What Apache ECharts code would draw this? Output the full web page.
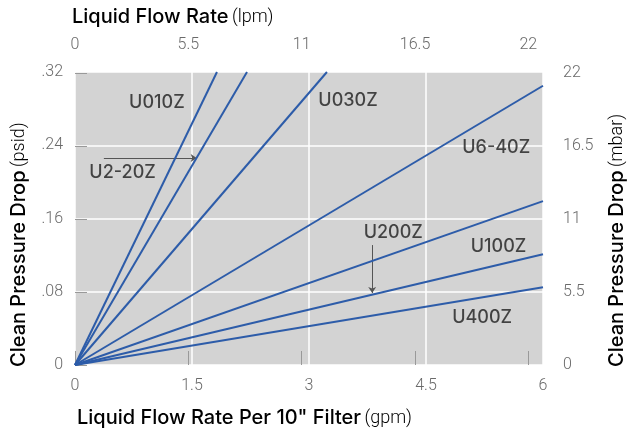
<!DOCTYPE html>
<html>
<head>
<meta charset="utf-8">
<script src="https://cdn.jsdelivr.net/npm/echarts@6/dist/echarts.min.js"></script>
<style>
  html, body { margin: 0; padding: 0; background: #fff; }
  #chart { width: 632px; height: 436px; }
</style>
</head>
<body>
<div id="chart"></div>
<script>
// filter curves: every line starts at 0,0 and ends at (endGpm, endPsid)
const filterNames = ['U010Z', 'U2-20Z', 'U030Z', 'U6-40Z', 'U200Z', 'U100Z', 'U400Z']
const endGpm = [1.82, 2.205, 3.23, 6, 6, 6, 6]
const endPsid = [0.32, 0.32, 0.32, 0.305, 0.179, 0.121, 0.085]

// where the curve names sit (gpm, psid)
const labelNames = ['U010Z', 'U2-20Z', 'U030Z', 'U6-40Z', 'U200Z', 'U100Z', 'U400Z']
const labelGpm = [1.05, 0.61, 3.50, 5.40, 4.08, 5.43, 5.22]
const labelPsid = [0.287, 0.2097, 0.289, 0.237, 0.145, 0.129, 0.0513]

// pointer arrows (from -> to)
const arrowFrom = [[0.37, 0.226], [3.81, 0.131]]
const arrowTo = [[1.56, 0.226], [3.81, 0.0786]]

// axis ticks
const gpmTicks = [0, 1.5, 3, 4.5, 6]
const psidTicks = [0, 0.08, 0.16, 0.24, 0.32]
const lpmTicks = [0, 5.5, 11, 16.5, 22]
const mbarTicks = [0, 5.5, 11, 16.5, 22]

const lineBlue = '#2d5ca9'
const tickFont = 'Roboto, sans-serif'
const labelFont = 'Inter, "Liberation Sans", sans-serif'

const chart = echarts.init(document.getElementById('chart'))

const lineSeries = filterNames.map((name, i) => ({
  name: name,
  type: 'line',
  xAxisIndex: 0,
  yAxisIndex: 0,
  showSymbol: false,
  silent: true,
  data: [[0, 0], [endGpm[i], endPsid[i]]],
  lineStyle: { color: lineBlue, width: 2 }
}))

const titleRich = {
  b: { fontFamily: labelFont, fontSize: 20, fontWeight: 500, color: '#1e1e1e' },
  l: { fontFamily: tickFont, fontSize: 18, fontWeight: 300, color: '#777' }
}

// tick label look
const tickLabel = { color: '#6a6a6a', fontSize: 16, fontWeight: 300, fontFamily: tickFont }

const option = {
  animation: false,
  grid: {
    left: 75,
    right: 89,
    top: 72,
    bottom: 71,
    show: true,
    backgroundColor: '#d3d3d3',
    borderWidth: 0
  },
  xAxis: [
    {
      type: 'value',
      position: 'bottom',
      min: 0,
      max: 6,
      interval: 1.5,
      axisLine: { show: false },
      axisTick: { show: false },
      axisLabel: Object.assign({ margin: 13, customValues: gpmTicks }, tickLabel),
      splitLine: { show: true, lineStyle: { color: '#fff', width: 1.5 } }
    },
    {
      type: 'value',
      position: 'top',
      min: 0,
      max: 22.71,
      axisLine: { show: false },
      axisTick: { show: true, length: 14, lineStyle: { color: '#999' }, customValues: lpmTicks },
      axisLabel: Object.assign({ margin: 19, customValues: lpmTicks }, tickLabel),
      splitLine: { show: false }
    }
  ],
  yAxis: [
    {
      type: 'value',
      position: 'left',
      min: 0,
      max: 0.32,
      interval: 0.08,
      axisLine: { show: false },
      axisTick: { show: false },
      axisLabel: Object.assign({
        margin: 12,
        customValues: psidTicks,
        formatter: (v) => v === 0 ? '0' : String(+v.toFixed(2)).replace(/^0/, '')
      }, tickLabel),
      splitLine: { show: true, lineStyle: { color: '#fff', width: 1.5 } }
    },
    {
      type: 'value',
      position: 'right',
      min: 0,
      max: 22.06,
      axisLine: { show: false },
      axisTick: { show: true, length: 12, lineStyle: { color: '#999' }, customValues: mbarTicks },
      axisLabel: Object.assign({ margin: 20, customValues: mbarTicks }, tickLabel),
      splitLine: { show: false }
    }
  ],
  graphic: [
    {
      type: 'text',
      left: 72,
      top: 7,
      style: { text: '{b|Liquid Flow Rate} {l|(lpm)}', rich: titleRich }
    },
    {
      type: 'text',
      left: 77,
      top: 408,
      style: { text: '{b|Liquid Flow Rate Per 10" Filter} {l|(gpm)}', rich: titleRich }
    },
    {
      type: 'text',
      x: 9,
      y: 367,
      rotation: Math.PI / 2,
      style: { text: '{b|Clean Pressure Drop} {l|(psid)}', rich: titleRich, verticalAlign: 'top' }
    },
    {
      type: 'text',
      x: 607,
      y: 367,
      rotation: Math.PI / 2,
      style: { text: '{b|Clean Pressure Drop} {l|(mbar)}', rich: titleRich, verticalAlign: 'top' }
    }
  ],
  series: lineSeries.concat([
    {
      type: 'scatter',
      xAxisIndex: 0,
      yAxisIndex: 0,
      symbolSize: 0,
      silent: true,
      data: labelNames.map((n, i) => [labelGpm[i], labelPsid[i], n]),
      label: {
        show: true,
        position: 'inside',
        formatter: (p) => p.data[2],
        color: '#1e1e1e',
        fontSize: 18,
        fontWeight: 500,
        fontFamily: labelFont
      }
    },
    {
      type: 'lines',
      coordinateSystem: 'cartesian2d',
      xAxisIndex: 0,
      yAxisIndex: 0,
      silent: true,
      symbol: ['none', 'arrow'],
      symbolSize: 6,
      lineStyle: { color: '#555', width: 1, opacity: 1 },
      data: arrowFrom.map((f, i) => ({ coords: [f, arrowTo[i]] }))
    }
  ])
}

chart.setOption(option)
</script>
</body>
</html>
